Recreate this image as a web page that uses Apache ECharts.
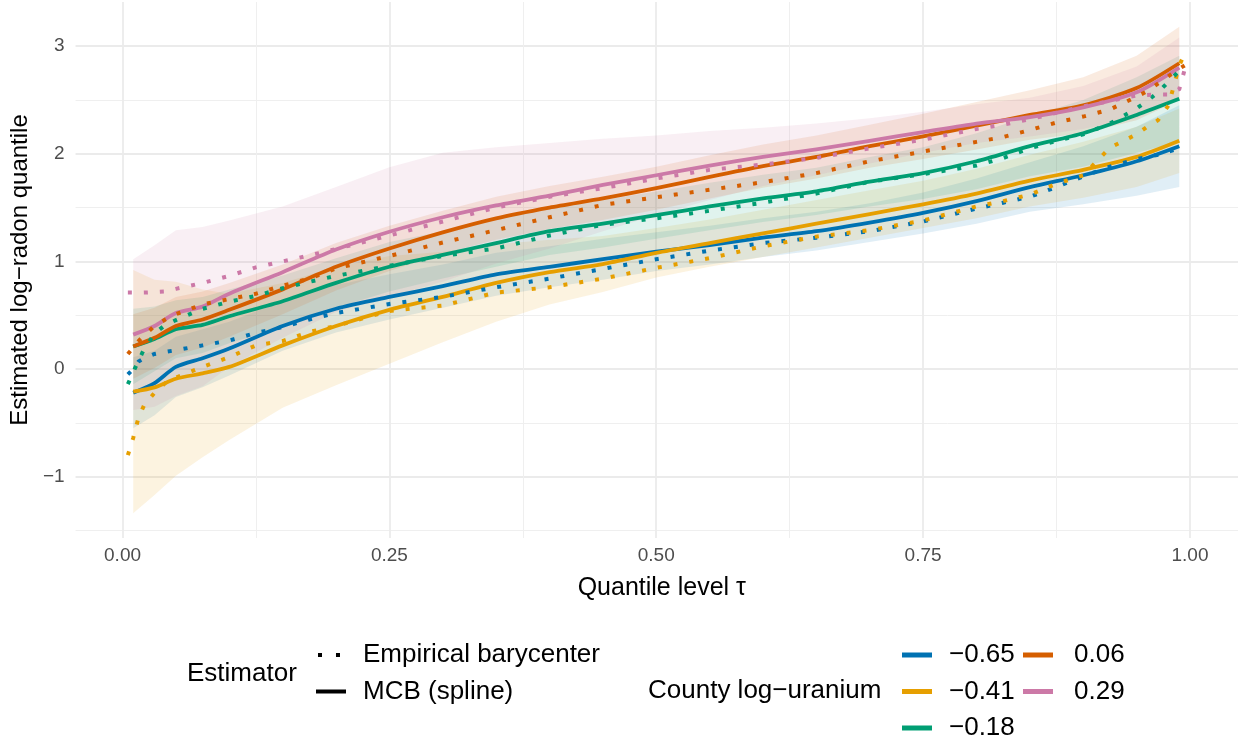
<!DOCTYPE html>
<html>
<head>
<meta charset="utf-8">
<script src="https://cdn.jsdelivr.net/npm/echarts@6/dist/echarts.min.js"></script>
<style>html,body{margin:0;padding:0;background:#fff}#chart{width:1238px;height:742px}</style>
</head>
<body>
<div id="chart"></div>
<script>
// ---- data ----
const groupNames = ['\u22120.65', '\u22120.41', '\u22120.18', '0.06', '0.29'];
const groupColors = ['#0072B2', '#E69F00', '#009E73', '#D55E00', '#CC79A7'];

// MCB (spline) estimates and bands
const tauMCB = [0.01,0.03,0.05,0.075,0.1,0.15,0.2,0.25,0.3,0.35,0.4,0.45,0.5,0.55,0.6,0.65,0.7,0.75,0.8,0.85,0.9,0.95,0.99];
const mcbBlue   = [-0.22,-0.13,0.02,0.10,0.19,0.40,0.56,0.67,0.77,0.88,0.95,1.02,1.09,1.15,1.22,1.28,1.36,1.45,1.56,1.69,1.80,1.93,2.07];
const mcbOrange = [-0.21,-0.17,-0.09,-0.04,0.02,0.22,0.40,0.55,0.67,0.80,0.90,0.975,1.08,1.17,1.26,1.35,1.44,1.53,1.63,1.75,1.85,1.97,2.12];
const mcbGreen  = [0.21,0.28,0.37,0.41,0.49,0.63,0.80,0.95,1.06,1.17,1.28,1.35,1.43,1.51,1.585,1.65,1.74,1.82,1.93,2.07,2.19,2.36,2.51];
const mcbVerm   = [0.21,0.29,0.40,0.46,0.55,0.74,0.95,1.12,1.27,1.40,1.50,1.585,1.68,1.785,1.885,1.97,2.07,2.16,2.26,2.36,2.45,2.61,2.84];
const mcbPink   = [0.32,0.40,0.52,0.58,0.70,0.90,1.11,1.275,1.41,1.52,1.61,1.71,1.80,1.89,1.97,2.04,2.12,2.20,2.28,2.34,2.43,2.57,2.80];

const lowBlue   = [-0.55,-0.43,-0.26,-0.17,-0.06,0.17,0.34,0.46,0.57,0.68,0.76,0.83,0.91,0.97,1.04,1.10,1.18,1.26,1.35,1.46,1.53,1.61,1.69];
const upBlue    = [0.11,0.17,0.30,0.37,0.44,0.63,0.78,0.88,0.97,1.08,1.14,1.21,1.27,1.33,1.40,1.46,1.54,1.64,1.77,1.92,2.07,2.25,2.45];
const lowOrange = [-1.34,-1.17,-0.99,-0.82,-0.66,-0.36,-0.15,0.05,0.25,0.44,0.60,0.715,0.85,0.95,1.04,1.13,1.22,1.31,1.40,1.51,1.59,1.69,1.82];
const upOrange  = [0.92,0.83,0.81,0.74,0.70,0.80,0.95,1.05,1.09,1.16,1.20,1.235,1.31,1.39,1.48,1.57,1.66,1.75,1.86,1.99,2.11,2.25,2.42];
const lowGreen  = [-0.14,-0.02,0.10,0.15,0.24,0.39,0.57,0.72,0.84,0.95,1.06,1.13,1.21,1.29,1.365,1.43,1.51,1.58,1.67,1.79,1.88,2.01,2.11];
const upGreen   = [0.56,0.58,0.64,0.67,0.74,0.87,1.03,1.18,1.28,1.39,1.50,1.57,1.65,1.73,1.805,1.87,1.97,2.06,2.19,2.35,2.50,2.71,2.91];
const lowVerm   = [-0.09,0.01,0.13,0.20,0.30,0.51,0.73,0.91,1.07,1.20,1.30,1.385,1.48,1.585,1.685,1.77,1.87,1.95,2.04,2.13,2.19,2.31,2.50];
const upVerm    = [0.51,0.57,0.67,0.72,0.80,0.97,1.17,1.33,1.47,1.60,1.70,1.785,1.88,1.985,2.085,2.17,2.27,2.37,2.48,2.59,2.71,2.91,3.18];
const lowPink   = [-0.38,-0.35,-0.25,-0.16,0.02,0.29,0.53,0.675,0.81,0.98,1.12,1.28,1.43,1.57,1.70,1.80,1.91,2.01,2.10,2.16,2.23,2.33,2.52];
const upPink    = [1.02,1.15,1.29,1.32,1.38,1.51,1.69,1.875,2.01,2.06,2.10,2.14,2.17,2.21,2.24,2.28,2.33,2.39,2.46,2.52,2.63,2.81,3.08];

// Empirical barycenter
const tauEmp = [0.005,0.01,0.015,0.02,0.03,0.04,0.05,0.075,0.1,0.125,0.15,0.175,0.2,0.25,0.3,0.35,0.4,0.45,0.5,0.55,0.6,0.65,0.7,0.75,0.8,0.825,0.85,0.875,0.9,0.925,0.95,0.96,0.97,0.98,0.99,0.995];
const empBlue   = [-0.05,0.0,0.07,0.10,0.14,0.16,0.175,0.22,0.265,0.335,0.39,0.46,0.52,0.605,0.67,0.76,0.84,0.93,1.02,1.10,1.17,1.22,1.28,1.37,1.49,1.545,1.60,1.69,1.79,1.88,1.95,1.97,1.99,2.02,2.05,2.06];
const empOrange = [-0.80,-0.64,-0.45,-0.34,-0.22,-0.13,-0.08,0.02,0.11,0.22,0.26,0.345,0.40,0.54,0.59,0.71,0.76,0.84,0.94,1.03,1.14,1.23,1.29,1.38,1.51,1.56,1.62,1.72,1.80,2.055,2.18,2.25,2.31,2.45,2.82,2.93];
const empGreen  = [-0.14,-0.03,0.08,0.18,0.33,0.41,0.455,0.56,0.625,0.68,0.75,0.81,0.865,0.96,1.05,1.12,1.24,1.34,1.40,1.47,1.545,1.63,1.74,1.81,1.89,1.96,2.05,2.12,2.18,2.28,2.42,2.49,2.57,2.67,2.77,2.80];
const empVerm   = [0.14,0.20,0.26,0.31,0.40,0.46,0.51,0.60,0.65,0.70,0.775,0.84,0.935,1.05,1.175,1.29,1.41,1.525,1.595,1.665,1.735,1.82,1.93,2.02,2.11,2.155,2.22,2.29,2.345,2.41,2.53,2.58,2.65,2.72,2.79,2.82];
const empPink   = [0.71,0.71,0.71,0.71,0.715,0.72,0.745,0.80,0.865,0.945,1.00,1.055,1.115,1.24,1.37,1.50,1.60,1.68,1.77,1.85,1.90,1.96,2.05,2.13,2.23,2.27,2.32,2.38,2.44,2.49,2.54,2.545,2.55,2.55,2.60,2.78];

const xMajorTicks = [0, 0.25, 0.5, 0.75, 1];
const xMinorTicks = [0.125, 0.375, 0.625, 0.875];
const yMajorTicks = [-1, 0, 1, 2, 3];
const yMinorTicks = [-1.5, -0.5, 0.5, 1.5, 2.5];

const estimatorNames = ['Empirical barycenter', 'MCB (spline)'];
// ---------------------------------------

const mcbSeriesVals = [mcbBlue, mcbOrange, mcbGreen, mcbVerm, mcbPink];
const empSeriesVals = [empBlue, empOrange, empGreen, empVerm, empPink];
const lowVals = [lowBlue, lowOrange, lowGreen, lowVerm, lowPink];
const upVals = [upBlue, upOrange, upGreen, upVerm, upPink];

function hexA(hex, a) {
  const r = parseInt(hex.slice(1,3),16), g = parseInt(hex.slice(3,5),16), b = parseInt(hex.slice(5,7),16);
  return 'rgba(' + r + ',' + g + ',' + b + ',' + a + ')';
}
const FONT = '"Liberation Sans", Arial, Helvetica, sans-serif';
const minusFmt = v => (v < 0 ? '\u2212' + Math.abs(v) : String(v));

const series = [];
// ribbons
groupNames.forEach((nm, g) => {
  series.push({
    type: 'custom', name: nm + ' band', xAxisIndex: 0, yAxisIndex: 0,
    silent: true, clip: true, z: 1,
    data: [[tauMCB[0], mcbSeriesVals[g][0]]],
    renderItem: function (params, api) {
      const pts = [];
      for (let i = 0; i < tauMCB.length; i++) pts.push(api.coord([tauMCB[i], upVals[g][i]]));
      for (let i = tauMCB.length - 1; i >= 0; i--) pts.push(api.coord([tauMCB[i], lowVals[g][i]]));
      return { type: 'polygon', shape: { points: pts }, style: { fill: hexA(groupColors[g], 0.12), stroke: null } };
    }
  });
});
// solid MCB lines
groupNames.forEach((nm, g) => {
  series.push({
    type: 'line', name: nm, xAxisIndex: 0, yAxisIndex: 0, z: 3,
    data: tauMCB.map((t, i) => [t, mcbSeriesVals[g][i]]),
    showSymbol: false, symbol: 'none', smooth: 0.25, silent: true,
    color: groupColors[g],
    lineStyle: { color: groupColors[g], width: 3.8, cap: 'butt', join: 'round' }
  });
});
// dotted empirical barycenter lines
groupNames.forEach((nm, g) => {
  series.push({
    type: 'line', name: nm + ' (empirical)', xAxisIndex: 0, yAxisIndex: 0, z: 4,
    data: tauEmp.map((t, i) => [t, empSeriesVals[g][i]]),
    showSymbol: false, symbol: 'none', smooth: false, silent: true,
    color: groupColors[g],
    lineStyle: { color: groupColors[g], width: 4, type: [4, 12], cap: 'butt', join: 'miter' }
  });
});
// estimator legend keys (no data)
series.push({ type: 'line', name: estimatorNames[0], data: [], color: '#000', lineStyle: { color: '#000', width: 4, type: [4, 12] }, symbol: 'none' });
series.push({ type: 'line', name: estimatorNames[1], data: [], color: '#000', lineStyle: { color: '#000', width: 4 }, symbol: 'none' });

const legendText = { fontFamily: FONT, fontSize: 26, lineHeight: 26, color: '#000', padding: [0, 0, 0, 12] };
const dotsIcon = 'path://M0,0h0.01v0.01h-0.01zM2,0h4v4h-4zM20,0h4v4h-4zM30,3.99h0.01v0.01h-0.01z';

const option = {
  animation: false,
  backgroundColor: '#ffffff',
  textStyle: { fontFamily: FONT },
  grid: { left: 75, right: 0, top: 2, bottom: 204, containLabel: false },
  xAxis: [
    {
      type: 'value', min: -0.044, max: 1.045,
      name: 'Quantile level \u03c4', nameLocation: 'middle', nameGap: 38,
      nameTextStyle: { fontFamily: FONT, fontSize: 25, color: '#000', padding: [0, 0, 0, 10] },
      axisLine: { show: false },
      axisTick: { show: false, customValues: xMajorTicks },
      axisLabel: { customValues: xMajorTicks, formatter: v => v.toFixed(2), fontFamily: FONT, fontSize: 19, color: '#4D4D4D', margin: 8 },
      splitLine: { show: true, lineStyle: { color: '#EBEBEB', width: 1.8 } }
    },
    {
      type: 'value', min: -0.044, max: 1.045, position: 'bottom', gridIndex: 0,
      axisLine: { show: false },
      axisTick: { show: false, customValues: xMinorTicks },
      axisLabel: { show: false, customValues: xMinorTicks },
      splitLine: { show: true, lineStyle: { color: '#EFEFEF', width: 1 } }
    }
  ],
  yAxis: [
    {
      type: 'value', min: -1.569, max: 3.409,
      name: 'Estimated log\u2212radon quantile', nameLocation: 'middle', nameGap: 36,
      nameTextStyle: { fontFamily: FONT, fontSize: 24, color: '#000' },
      axisLine: { show: false },
      axisTick: { show: false, customValues: yMajorTicks },
      axisLabel: { customValues: yMajorTicks, formatter: minusFmt, fontFamily: FONT, fontSize: 19, color: '#4D4D4D', margin: 11 },
      splitLine: { show: true, lineStyle: { color: '#EBEBEB', width: 1.8 } }
    },
    {
      type: 'value', min: -1.569, max: 3.409, position: 'left', gridIndex: 0,
      axisLine: { show: false },
      axisTick: { show: false, customValues: yMinorTicks },
      axisLabel: { show: false, customValues: yMinorTicks },
      splitLine: { show: true, lineStyle: { color: '#EFEFEF', width: 1 } }
    }
  ],
  title: [
    { text: 'Estimator', left: 187, top: 661, padding: 0, textStyle: { fontFamily: FONT, fontSize: 26, lineHeight: 26, fontWeight: 'normal', color: '#000' } },
    { text: 'County log\u2212uranium', left: 648, top: 678, padding: 0, textStyle: { fontFamily: FONT, fontSize: 26, lineHeight: 26, fontWeight: 'normal', color: '#000' } }
  ],
  legend: [
    {
      orient: 'vertical', left: 316, top: 642, padding: 0, itemGap: 10.5, itemWidth: 30, itemHeight: 4,
      selectedMode: false, textStyle: legendText,
      data: [
        { name: estimatorNames[0], icon: dotsIcon, itemStyle: { color: '#000' } },
        { name: estimatorNames[1], icon: 'rect', itemStyle: { color: '#000' } }
      ]
    },
    {
      orient: 'vertical', left: 902, top: 642, padding: 0, itemGap: 10.5, itemWidth: 30, itemHeight: 5,
      selectedMode: false, textStyle: legendText, icon: 'rect',
      data: [groupNames[0], groupNames[1], groupNames[2]]
    },
    {
      orient: 'vertical', left: 1023, top: 642, padding: 0, itemGap: 10.5, itemWidth: 30, itemHeight: 5,
      selectedMode: false, textStyle: Object.assign({}, legendText, { padding: [0, 0, 0, 16] }), icon: 'rect',
      data: [groupNames[3], groupNames[4]]
    }
  ],
  series: series
};

const chart = echarts.init(document.getElementById('chart'), null, { renderer: 'canvas' });
chart.setOption(option);
</script>
</body>
</html>
